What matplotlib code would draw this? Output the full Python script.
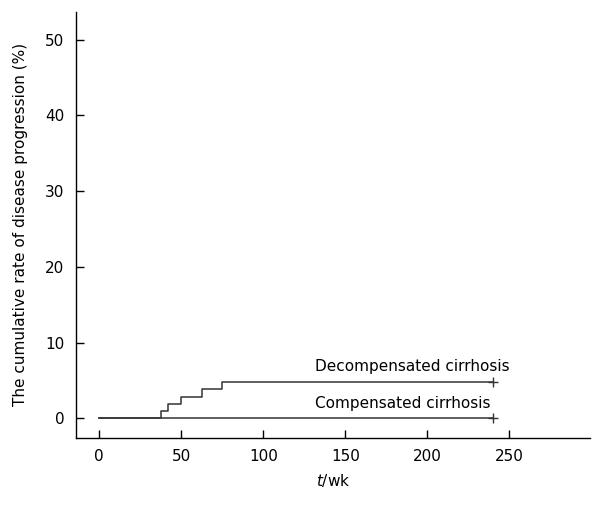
import numpy as np
import matplotlib
matplotlib.use("Agg")
from matplotlib import pyplot as plt

# step curves (weeks, cumulative %)
decomp_t = [0, 37.5, 42, 50, 62.5, 75, 240]
decomp_y = [0, 0.95, 1.9, 2.85, 3.8, 4.75, 4.75]
comp_t = [0, 240]
comp_y = [0, 0]
xticks = [0, 50, 100, 150, 200, 250]
yticks = [0, 10, 20, 30, 40, 50]

fs = 11
lc = '#333333'

fig = plt.figure(figsize=(6.05, 5.11), dpi=100)
ax = fig.add_axes([0.125, 0.143, 0.85, 0.834])

ax.step(decomp_t, decomp_y, where='post', color=lc, lw=1.1)
ax.step(comp_t, comp_y, where='post', color=lc, lw=1.1)
ax.plot([decomp_t[-1]], [decomp_y[-1]], marker='+', color=lc, ms=7, mew=1)
ax.plot([comp_t[-1]], [comp_y[-1]], marker='+', color=lc, ms=7, mew=1)

ax.text(191, 5.9, 'Decompensated cirrhosis', ha='center', va='bottom', fontsize=fs)
ax.text(185, 0.9, 'Compensated cirrhosis', ha='center', va='bottom', fontsize=fs)

ax.set_xlim(-14.4, 299)
ax.set_ylim(-2.6, 53.7)
ax.set_xticks(xticks)
ax.set_yticks(yticks)
ax.tick_params(direction='in', length=6, width=1, labelsize=fs, pad=8)

for s in ['top', 'right']:
    ax.spines[s].set_visible(False)
for s in ['left', 'bottom']:
    ax.spines[s].set_linewidth(1)

ax.set_xlabel('$\\it{t}$/wk', fontsize=fs, labelpad=6)
ax.set_ylabel('The cumulative rate of disease progression (%)', fontsize=fs, labelpad=12)

fig.savefig('out.png', dpi=100)
